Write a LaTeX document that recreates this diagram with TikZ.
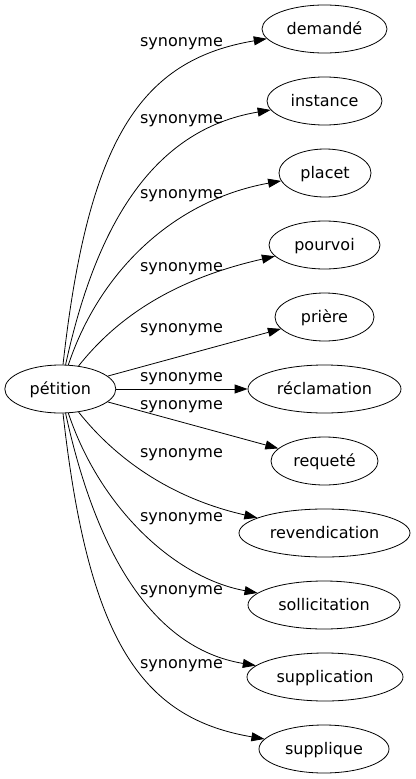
\documentclass[tikz,border=0pt]{standalone}
\usepackage{fontspec}
\setmainfont{DejaVu Sans}
\usetikzlibrary{shapes.geometric,arrows.meta}
\begin{document}
\begin{tikzpicture}[x=1pt,y=-1pt,
  term/.style={draw, ellipse, inner sep=0pt, minimum height=48pt,
    font=\fontsize{16}{19}\selectfont, text height=12pt, text depth=2pt, line width=0.8pt},
  rel/.style={-{Triangle[length=13pt,width=9pt]}, line width=0.8pt},
  lbl/.style={font=\fontsize{16}{19}\selectfont, inner sep=0pt}]
\useasboundingbox (0,0) rectangle (415,779);
% nodes
\node[term, minimum width=111pt] (p) at (60.3,389) {pétition};
\node[term, minimum width=125pt] (dem) at (324.5,29) {demandé};
\node[term, minimum width=115pt] (ins) at (324.5,101) {instance};
\node[term, minimum width=92pt] (pla) at (325,173) {placet};
\node[term, minimum width=111pt] (pou) at (324.5,245) {pourvoi};
\node[term, minimum width=99pt] (pri) at (324.5,317) {prière};
\node[term, minimum width=153pt] (rec) at (324.5,389) {réclamation};
\node[term, minimum width=107pt] (req) at (324.5,461) {requeté};
\node[term, minimum width=171pt] (rev) at (324.5,533) {revendication};
\node[term, minimum width=152pt] (sol) at (324,605) {sollicitation};
\node[term, minimum width=156pt] (sup) at (325,677) {supplication};
\node[term, minimum width=130pt] (spq) at (324,749) {supplique};
% edges
\draw[rel] (p) .. controls (88,140) and (140,60) .. (dem);
\draw[rel] (p) .. controls (95,230) and (150,130) .. (ins);
\draw[rel] (p) .. controls (100,270) and (175,200) .. (pla);
\draw[rel] (p) .. controls (115,320) and (170,280) .. (pou);
\draw[rel] (p) -- (pri);
\draw[rel] (p) -- (rec);
\draw[rel] (p) -- (req);
\draw[rel] (p) .. controls (115,458) and (170,498) .. (rev);
\draw[rel] (p) .. controls (100,508) and (175,578) .. (sol);
\draw[rel] (p) .. controls (95,548) and (150,648) .. (sup);
\draw[rel] (p) .. controls (88,638) and (140,718) .. (spq);
% labels
\node[lbl] (l1) at (181.5,44) {synonyme};
\node[lbl] (l2) at (181.5,121) {synonyme};
\node[lbl] (l3) at (181.5,196) {synonyme};
\node[lbl] (l4) at (181.5,268.5) {synonyme};
\node[lbl] (l5) at (181.5,330) {synonyme};
\node[lbl] (l6) at (181.5,378.5) {synonyme};
\node[lbl] (l7) at (181.5,406.5) {synonyme};
\node[lbl] (l8) at (181.5,455) {synonyme};
\node[lbl] (l9) at (181.5,518.5) {synonyme};
\node[lbl] (l10) at (181.5,592) {synonyme};
\node[lbl] (l11) at (181.5,666) {synonyme};
\end{tikzpicture}
\end{document}
